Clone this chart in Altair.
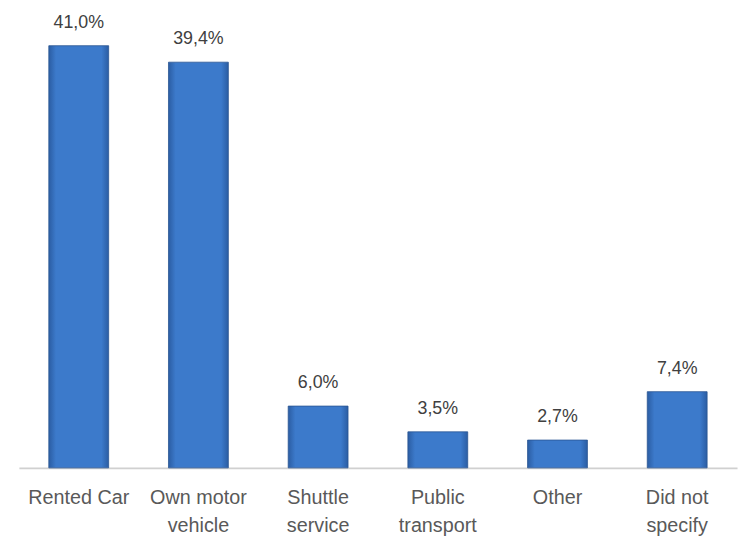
import altair as alt
import pandas as pd

categories = ["Rented Car", "Own motor\nvehicle", "Shuttle\nservice", "Public\ntransport", "Other", "Did not\nspecify"]
values = [41.0, 39.4, 6.0, 3.5, 2.7, 7.4]

df = pd.DataFrame({"cat": categories, "val": values})
df["label"] = [f"{v:.1f}%".replace(".", ",") for v in values]

FONT = "Liberation Sans"

x = alt.X("cat:N", sort=categories, title=None,
          scale=alt.Scale(paddingInner=0.5, paddingOuter=0.25),
          axis=alt.Axis(labelAngle=0, labelExpr="split(datum.label, '\\n')",
                        labelFont=FONT, labelFontSize=20, labelColor="#595959",
                        labelLineHeight=28, labelBaseline="alphabetic", labelPadding=36,
                        ticks=False, domainColor="#d0d0d0", domainWidth=2))
y = alt.Y("val:Q", title=None, scale=alt.Scale(domain=[0, 44], nice=False), axis=None)

grad = alt.Gradient(gradient="linear", x1=0, x2=1, y1=0, y2=0,
                    stops=[alt.GradientStop(offset=0, color="#2b5da3"),
                           alt.GradientStop(offset=0.12, color="#3c7acb"),
                           alt.GradientStop(offset=0.88, color="#3c7acb"),
                           alt.GradientStop(offset=1, color="#2b5da3")])

bars = alt.Chart(df).mark_bar(fill=grad, stroke="#2a5592", strokeWidth=0.8).encode(x=x, y=y)
text = alt.Chart(df).mark_text(baseline="alphabetic", dy=-18, font=FONT, fontSize=18, color="#404040").encode(
    x=alt.X("cat:N", sort=categories), y="val:Q", text="label:N")

chart = (bars + text).properties(
    width=726, height=458,
    background="white",
    autosize=alt.AutoSizeParams(type="none"),
    padding={"left": 11, "top": 4, "right": 3, "bottom": 68},
).configure_view(stroke=None)

chart.save("out.html", embed_options={"renderer": "svg", "actions": False})
